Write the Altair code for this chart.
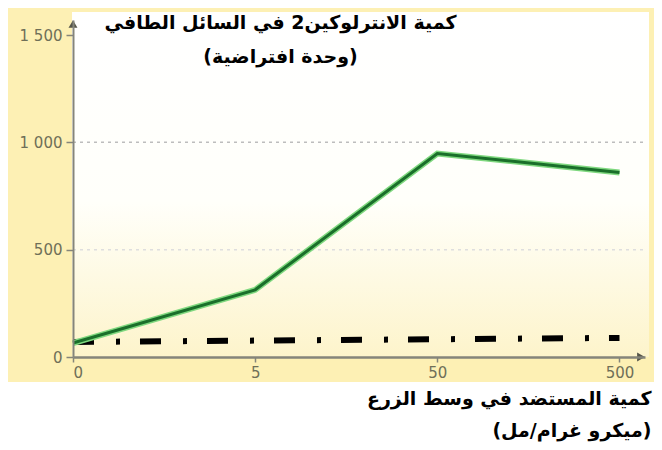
import json
import altair as alt
import pandas as pd

# ---- data ----
categories = ["0", "5", "50", "500"]            # antigen concentration (µg/mL)
il2_values = [65, 313, 948, 860]                # IL-2 in supernatant (arbitrary units)
control_categories = ["0", "500"]               # control (dash-dot) line
control_values = [70, 89]
y_ticks = [0, 500, 1000, 1500]
grid_values = [500, 1000]
y_title = ["كمية الانترلوكين2  في السائل الطافي", "(وحدة افتراضية)"]
x_title = ["كمية المستضد في وسط الزرع", "(ميكرو غرام/مل)"]

W, H = 572, 337
FONT = "DejaVu Sans"
AXIS_COLOR = "#85857a"
LABEL_COLOR = "#6f6f58"

main_df = pd.DataFrame({"pos": [categories.index(c) for c in categories], "val": il2_values})
ctrl_df = pd.DataFrame({"pos": [categories.index(c) for c in control_categories], "val": control_values})
grid_df = pd.DataFrame({"val": grid_values})
one = alt.Data(values=[{"k": 1}])

x_enc = alt.X(
    "pos:Q",
    scale=alt.Scale(domain=[0, 3.14], nice=False, zero=False),
    axis=alt.Axis(
        values=list(range(len(categories))),
        labelExpr=f"{json.dumps(categories)}[datum.value]",
        grid=False, domainColor=AXIS_COLOR, domainWidth=2.5,
        tickColor=AXIS_COLOR, tickSize=5, tickWidth=1.5,
        labelFont=FONT, labelFontSize=15, labelColor=LABEL_COLOR, labelPadding=3,
        title=x_title, titleFont=FONT, titleFontSize=19, titleFontWeight="bold",
        titleColor="black", titleAngle=0, titleAlign="right", titleBaseline="top",
        titleX=578, titleY=32, titleLineHeight=32, zindex=1,
    ),
)
y_enc = alt.Y(
    "val:Q",
    scale=alt.Scale(domain=[0, 1570], nice=False),
    axis=alt.Axis(
        values=y_ticks,
        labelExpr="replace(format(datum.value, ','), ',', ' ')",
        grid=False, domainColor=AXIS_COLOR, domainWidth=2,
        tickColor=AXIS_COLOR, tickSize=7, tickWidth=1.5,
        labelFont=FONT, labelFontSize=15, labelColor=LABEL_COLOR, labelPadding=4,
        title=y_title, titleFont=FONT, titleFontSize=19, titleFontWeight="bold",
        titleColor="black", titleAngle=0, titleAlign="center", titleBaseline="top",
        titleX=207, titleY=-7, titleLineHeight=34, zindex=1,
    ),
)

bg = alt.Chart(one).mark_rect(fill="#fdf0b4").encode(
    x=alt.value(-65), x2=alt.value(581), y=alt.value(-12), y2=alt.value(362)
)
plot_bg = alt.Chart(one).mark_rect(
    fill=alt.Gradient(
        gradient="linear", x1=0, y1=0, x2=0, y2=1,
        stops=[alt.GradientStop(offset=0, color="#ffffff"),
               alt.GradientStop(offset=0.55, color="#fffffa"),
               alt.GradientStop(offset=1, color="#fdf4cb")],
    )
).encode(x=alt.value(-1), x2=alt.value(576), y=alt.value(-8), y2=alt.value(H))

grid = alt.Chart(grid_df).mark_rule(strokeDash=[3, 4], strokeWidth=1.5).encode(
    x=alt.value(0), x2=alt.value(W), y=y_enc,
    color=alt.condition(alt.datum.val == 1000, alt.value("#bdbdbd"), alt.value("#dedede")),
)

control = alt.Chart(ctrl_df).mark_line(
    color="black", strokeWidth=6, strokeDash=[21, 22, 4, 20], strokeCap="butt"
).encode(x=x_enc, y=y_enc)

halo = alt.Chart(main_df).mark_line(color="#7fd87f", strokeWidth=6, strokeJoin="miter").encode(x=x_enc, y=y_enc)
core = alt.Chart(main_df).mark_line(color="#1a6f2a", strokeWidth=3, strokeJoin="miter").encode(x=x_enc, y=y_enc)

arrow_y = alt.Chart(one).mark_point(shape="triangle-up", filled=True, size=80, color="#55554a", opacity=1).encode(
    x=alt.value(0), y=alt.value(4)
)
arrow_x = alt.Chart(one).mark_point(shape="triangle-right", filled=True, size=80, color="#55554a", opacity=1).encode(
    x=alt.value(W - 4), y=alt.value(H)
)

chart = alt.layer(bg, plot_bg, grid, control, halo, core, arrow_y, arrow_x).properties(
    width=W, height=H,
    autosize=alt.AutoSizeParams(type="none"),
    padding={"left": 65, "top": 12, "right": 9, "bottom": 85},
    background="white",
).configure_view(stroke=None)

chart.save("out.html", embed_options={"renderer": "svg", "actions": False})
